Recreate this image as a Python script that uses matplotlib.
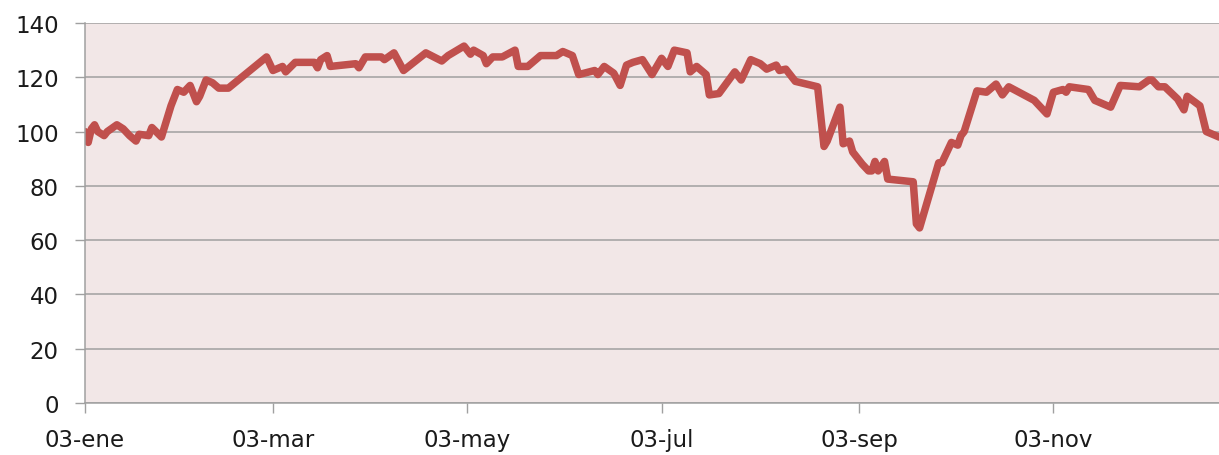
import matplotlib
matplotlib.use("Agg")
from matplotlib import pyplot as plt
import pandas as pd

# dias contados desde el 03-ene, valor del indice
dias = [0, 1, 2, 3, 4, 6, 7, 10, 12, 14, 16, 17, 20, 21, 24, 27, 29, 31, 33, 35,
        36, 38, 40, 42, 45, 57, 59, 62, 63, 66, 72, 73, 74, 76, 77, 85, 86, 88, 93, 94,
        97, 100, 107, 112, 114, 119, 121, 122, 125, 126, 128, 131, 135, 136, 139, 141, 143, 148, 150, 153,
        155, 160, 161, 163, 166, 168, 170, 172, 175, 178, 181, 183, 185, 189, 190, 192, 195, 196, 199, 204,
        206, 209, 212, 214, 217, 218, 220, 223, 230, 232, 233, 237, 238, 240, 241, 244, 246, 247, 248, 249,
        251, 252, 260, 261, 262, 268, 269, 272, 274, 275, 276, 280, 283, 286, 288, 290, 298, 302, 304, 307,
        308, 309, 315, 317, 322, 325, 331, 334, 335, 337, 339, 343, 345, 346, 350, 352, 356, 358]
valores = [100, 96, 101, 102.5, 100, 98.5, 100, 102.5, 101, 98.5, 96.5, 99, 98.5, 101.5, 98, 109.5, 115.5, 114.5, 117, 111,
           113, 119, 118, 116, 116, 127.5, 122.5, 124, 122, 125.5, 125.5, 123.5, 126.5, 128, 124, 125, 123.5, 127.5, 127.5, 126.5,
           129, 122.5, 129, 126, 128, 131.5, 128.5, 130, 128, 125, 127.5, 127.5, 130, 124, 124, 126, 128, 128, 129.5, 128,
           121, 122.5, 121, 124, 121.5, 117, 124.5, 125.5, 126.5, 121, 127, 124, 130, 129, 122, 124, 121, 113.5, 114, 122,
           119, 126.5, 125, 123, 124.5, 122.5, 123, 118.5, 116.5, 94.5, 96.5, 109, 95.5, 96.5, 92.5, 88, 85.5, 85.5, 89, 85.5,
           89, 82.5, 81.5, 66, 64.5, 88.5, 88.5, 96, 95, 98.5, 100, 115, 114.5, 117.5, 113.5, 116.5, 111.5, 106.5, 114.5, 115.5,
           114.5, 116.5, 115.5, 111.5, 109, 117, 116.5, 119, 119, 116.5, 116.5, 112, 108, 113, 109.5, 100, 98, 97.5]

ticks = ["2011-01-03", "2011-03-03", "2011-05-03", "2011-07-03", "2011-09-03", "2011-11-03"]
tick_labels = ["03-ene", "03-mar", "03-may", "03-jul", "03-sep", "03-nov"]
yticks = [0, 20, 40, 60, 80, 100, 120, 140]

fechas = pd.Timestamp("2011-01-03") + pd.to_timedelta(dias, unit="D")

plt.rcParams["font.family"] = ["DejaVu Sans"]

fig = plt.figure(figsize=(12.19, 4.56), dpi=100)
ax = fig.add_axes([85 / 1219, 1 - 404 / 456, 1 - 85 / 1219, 380 / 456])
ax.set_facecolor("#F2E7E7")

ax.plot(fechas, valores, color="#C0504D", lw=5.4, solid_joinstyle="round", solid_capstyle="round")

ax.set_xlim(pd.Timestamp("2011-01-03"), pd.Timestamp("2011-12-25"))
ax.set_ylim(0, 140)
ax.set_yticks(yticks)
ax.set_xticks(pd.to_datetime(ticks))
ax.set_xticklabels(tick_labels)

ax.grid(axis="y", color="#A0A0A0", lw=1.1)
ax.set_axisbelow(True)

for s in ["top", "right"]:
    ax.spines[s].set_visible(False)
for s in ["left", "bottom"]:
    ax.spines[s].set_color("#A0A0A0")
    ax.spines[s].set_linewidth(1.1)

ax.tick_params(axis="y", length=7, width=1, color="#A0A0A0", pad=12, labelsize=16.5, labelcolor="#1A1A1A")
ax.tick_params(axis="x", length=7, width=1, color="#A0A0A0", pad=11, labelsize=16.5, labelcolor="#1A1A1A")

fig.savefig("out.png", dpi=100)
